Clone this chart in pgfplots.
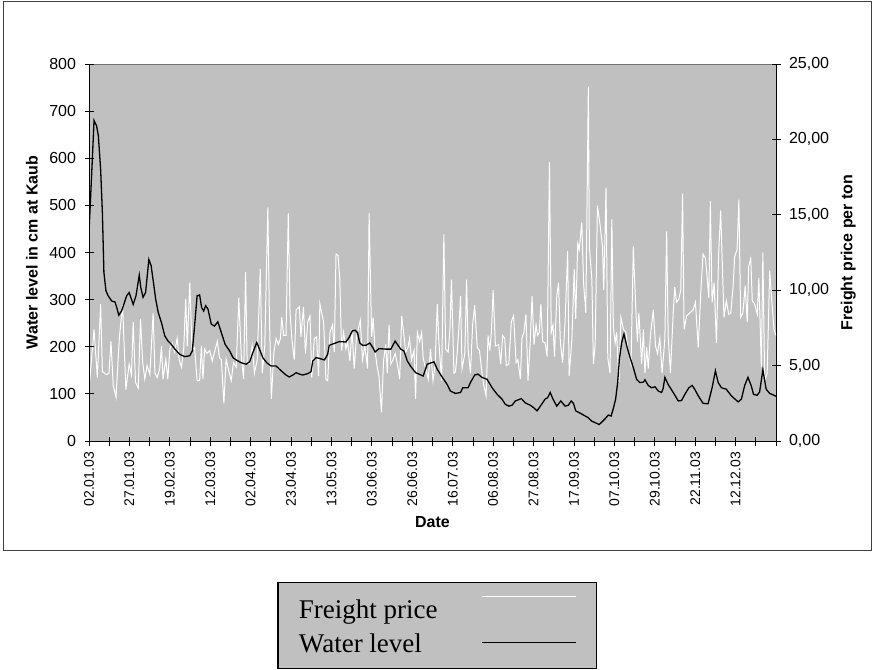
\documentclass[border=0pt]{standalone}
\usepackage{pgfplots}
\pgfplotsset{compat=1.18}
\usepackage{fontspec}
\setmainfont{Liberation Sans}
\newfontfamily\legfont{Liberation Serif}
\definecolor{bggray}{HTML}{C0C0C0}
\def\legy{8pt}
\begin{document}
\begin{tikzpicture}
\useasboundingbox (0,0) rectangle (874pt,-669pt);
\fill[white] (0,0) rectangle (874pt,-669pt);
\draw[line width=1pt, black!75] (3pt,-1.5pt) rectangle (871pt,-550pt);
\pgfplotsset{
  common/.style={
    scale only axis, width=687pt, height=377pt,
    at={(89pt,-441pt)}, anchor=south west,
    xmin=0, xmax=272,
    tick align=center, major tick length=9pt, minor tick length=9pt,
    tick style={black, line width=0.8pt},
    axis line style={black, line width=0.9pt},
    /pgf/number format/assume math mode=true,
    ticklabel style={font=\fontsize{16}{19}\selectfont},
    yticklabel shift=5pt,
    label style={font=\bfseries\fontsize{16}{19}\selectfont},
  }
}
\begin{axis}[common,
  axis background/.style={fill=bggray, draw=black!55, line width=0.8pt},
  axis y line*=right, axis x line*=bottom,
  ymin=0, ymax=25, ytick={0,5,...,25},
  yticklabel style={/pgf/number format/.cd, fixed, fixed zerofill, precision=2, use comma},
  xtick={0,16,...,256},
  minor xtick={8,24,...,264,272},
  xticklabels={02.01.03,27.01.03,19.02.03,12.03.03,02.04.03,23.04.03,13.05.03,03.06.03,26.06.03,16.07.03,06.08.03,27.08.03,17.09.03,07.10.03,29.10.03,22.11.03,12.12.03},
  xticklabel style={rotate=90, anchor=east, font=\fontsize{14}{17}\selectfont},
  xticklabel shift=3pt,
  xlabel={Date}, ylabel={Freight price per ton},
  xlabel style={at={(axis description cs:0.5,-0.215)}, anchor=center},
  ylabel style={at={(axis description cs:1.105,0.5)}, anchor=center},
]
\addplot[white, line width=1pt] coordinates {
(0,3.5)(2,7.4)(3.3,4.2)(4.6,9.1)(5.3,4.6)(7,4.4)(7.9,4.5)(8.7,6.6)(9.6,3.7)(10.7,2.9)(12,6.8)(13.3,9.0)(14.6,3.4)(15.9,5.1)(16.8,4.4)(17.5,7.9)(18.4,3.9)(19.5,3.5)(20.4,8.1)(21.2,5.3)(22.1,4.1)(23,5.0)(24.1,4.4)(25.4,8.5)(26.1,4.5)(27,4.2)(28,4.8)(28.7,6.3)(29.3,4.1)(30.4,5.4)(31.2,4.1)(32,6.1)(33,6.5)(33.9,5.9)(34.9,6.8)(35.7,5.4)(36.6,4.9)(37.5,6.1)(38.3,9.4)(38.9,6.3)(39.9,10.5)(40.8,6.1)(41.8,6.2)(42.8,4.0)(43.8,4.0)(44.5,6.3)(45.1,4.1)(45.8,6.1)(46.7,5.8)(47.8,6.0)(48.8,5.3)(49.7,5.9)(50.8,6.6)(51.7,5.5)(52.4,5.4)(53.4,2.5)(54.3,5.4)(55.4,4.6)(56.3,4.0)(57.2,5.2)(58.3,4.9)(59.3,9.5)(60.3,5.6)(61.2,4.1)(62,11.2)(62.6,5.2)(63.6,5.1)(64.6,6.3)(65.5,4.5)(66.6,5.4)(67.8,11.4)(68.6,4.5)(69.6,6.3)(70.8,15.5)(71.4,8.5)(72.2,2.8)(73.2,5.9)(74.1,6.8)(75,6.4)(75.8,6.8)(76.3,8.2)(77.1,7.0)(78,7.0)(78.9,15.1)(79.6,8.5)(80.4,6.6)(81.3,5.4)(82,8.7)(83.3,8.9)(83.9,6.9)(84.9,8.9)(85.7,5.8)(86.6,7.9)(87.5,8.3)(88.2,4.2)(89.2,6.8)(90.1,6.9)(90.9,4.3)(91.4,9.1)(92.1,8.5)(92.9,7.9)(93.8,4.1)(94.5,4.0)(95.4,7.2)(96.4,7.7)(97.1,5.9)(97.8,12.4)(98.6,12.3)(99.3,10.7)(100,6.0)(100.8,7.2)(101.7,6.1)(102.4,6.6)(103.3,5.3)(104.1,7.4)(105,4.8)(105.9,6.9)(107.4,8.0)(108.3,5.4)(109.2,6.3)(110.3,4.8)(110.9,15.1)
(111.9,6.9)(112.5,8.2)(113.3,5.9)(114.2,4.8)(114.8,4.3)(115.8,1.9)(116.6,5.3)(117.5,6.4)(118.1,4.5)(118.8,7.7)(119.5,5.1)(120.4,5.4)(121.2,5.8)(122.1,5.1)(123,4.1)(123.8,8.3)(124.7,7.0)(125.4,5.9)(126.3,6.2)(126.9,6.8)(127.7,5.4)(128.7,6.0)(129.3,2.8)(130,7.2)(130.9,6.6)(131.7,7.2)(132.3,5.5)(133.3,4.8)(134.3,4.1)(135.2,6.1)(136.2,4.0)(137,5.0)(137.9,9.1)(138.5,6.6)(139.6,4.0)(140.5,13.7)(141.2,6.1)(142.2,5.9)(142.9,7.4)(143.5,10.7)(144.5,4.5)(145.1,4.6)(145.8,5.9)(146.4,7.4)(147.1,9.6)(147.7,4.8)(148.8,5.8)(149.5,10.7)(150.1,6.1)(151,4.5)(151.9,7.7)(152.7,9.0)(153.7,6.2)(154.6,6.0)(155.6,4.5)(156.3,3.7)(157.2,3.0)(158,7.0)(158.7,6.0)(159.3,7.2)(160,10.0)(160.9,6.3)(162.2,6.4)(163,5.1)(163.8,7.0)(164.6,6.8)(165.2,5.0)(166.2,5.1)(167.2,7.9)(168.1,8.3)(169.1,5.2)(169.8,5.4)(170.8,4.1)(171.4,6.8)(172.2,7.2)(173,8.4)(173.8,4.0)(174.7,6.6)(175.4,9.6)(176.2,6.4)(177,7.7)(177.6,7.0)(178.3,7.2)(178.9,9.1)(179.6,6.6)(180.6,6.5)(181.4,5.6)(182.3,18.5)(183,7.2)(183.7,7.7)(184.3,5.6)(185.2,9.6)
(185.9,10.5)(186.6,6.6)(187.5,5.2)(188.5,7.9)(189.5,12.6)(190.1,4.3)(191.2,6.8)(192.1,11.4)(192.7,8.1)(193.5,13.1)(194.1,12.7)(195.1,14.5)(195.8,10.5)(196.7,8.5)(197.7,23.5)(198.1,12.9)(199.1,10.7)(199.7,5.1)(200.4,6.4)(201.3,15.6)(202.3,14.4)(203.3,12.9)(203.8,10.0)(204.7,16.8)(205.4,5.5)(206.3,4.5)(207,14.7)(207.6,7.6)(208.3,6.5)(208.9,7.2)(209.8,3.9)(210.6,8.2)(211.6,7.4)(212.6,7.2)(213.5,5.9)(214.6,5.1)(215.5,12.9)(216.4,9.1)(217.1,6.6)(217.7,8.5)(218.8,5.1)(219.5,7.4)(220.1,4.5)(220.8,6.2)(221.4,4.8)(222.3,7.0)(223.4,8.7)(224.3,6.3)(225.1,5.8)(226,6.8)(226.9,4.5)(228,6.8)(228.7,13.9)(229.3,7.0)(230.2,4.5)(231.3,8.5)(231.9,10.2)(232.6,9.2)(233.5,9.4)(234.3,10.0)(235,16.4)(235.6,7.4)(236.6,8.3)(237.9,8.5)(239.2,8.7)(240.1,9.2)(241.2,6.2)(242.2,9.8)(243.1,12.4)(244.1,12.1)(244.8,10.7)(245.4,9.5)(246,15.9)(246.7,9.2)(247.5,10.5)(248.4,6.5)(249.3,12.5)(250.1,15.3)(250.6,12.5)(251.4,8.2)(252.3,9.3)(253.3,8.4)(254.1,8.5)(255,10.2)(255.6,12.2)(256.6,12.7)(257.3,16.0)(258,8.2)(258.9,8.5)(259.8,10.3)(260.6,7.9)(261.2,11.6)(262,12.1)(262.6,9.3)(263.5,9.1)(264.6,8.4)(265.2,10.8)(266.2,4.9)(266.8,12.5)(267.5,4.0)(268.5,4.5)(269.5,11.3)(270.1,9.8)(271.2,7.4)(272,7.0)
};
\end{axis}
\begin{axis}[common,
  axis y line*=left, axis x line=none,
  ymin=0, ymax=800, ytick={0,100,...,800},
  ylabel={Water level in cm at Kaub},
  ylabel style={at={(axis description cs:-0.083,0.5)}, anchor=center},
  legend plot pos=right, legend cell align=left,
  legend image code/.code={\draw[#1] (0pt,\legy) -- (94pt,\legy);},
  legend style={at={(axis description cs:0.5066,-0.374)}, anchor=north,
    fill=bggray, draw=black, line width=1.2pt,
    font=\legfont\fontsize{27}{32}\selectfont,
    inner xsep=19pt, inner ysep=13pt, column sep=42pt, row sep=9pt,
    nodes={inner sep=2pt}},
]
\addlegendimage{white, line width=1.5pt, /utils/exec={\def\legy{14pt}}}
\addlegendentry{Freight price}
\addplot[black, line width=1.3pt, legend image post style={/utils/exec={\def\legy{1pt}}}] coordinates {
(0,443)(1,560)(2,680)(3,669)(3.7,648)(4.6,577)(5.3,485)(5.9,358)(6.7,319)(7.6,308)(9,297)(10.3,295)(11,283)(11.8,267)(12.9,276)(13.6,287)(14.9,308)(15.9,315)(17.5,290)(18.6,308)(19.9,352)(20.5,326)(21.4,305)(22.4,315)(23.7,385)(24.6,372)(25.7,329)(26.4,301)(27.4,273)(28.7,251)(30,223)(31.3,212)(32.6,205)(34,195)(35.9,184)(37.9,179)(39.9,181)(40.9,191)(41.8,244)(42.8,308)(43.8,310)(44.6,283)(45.4,276)(46.2,287)(47.1,280)(48.4,248)(49.7,244)(51,253)(52.4,230)(53.9,205)(55.7,191)(57,177)(58.3,172)(60.3,166)(62.2,163)(63.6,168)(64.9,188)(66.4,209)(67.5,195)(68.8,177)(70.4,166)(72.1,159)(74.1,159)(76.1,149)(78,140)(79.3,136)(80.7,140)(82,145)(83.3,142)(84.6,140)(86.6,143)(87.9,147)(88.6,170)(89.9,177)(91.4,175)(93.2,172)(94.5,184)(95.1,203)(97.1,207)(99.1,211)(101.7,210)(103,220)(104.3,234)(105.4,235)(106.3,230)(107.2,208)(108.3,203)(109.6,203)(111.2,208)(112.4,198)(113.3,189)(114.8,196)(117.5,195)(119.5,195)(121.2,212)(122.1,205)(123.4,195)(124.7,191)(126,170)(127.3,159)(129.3,145)(130.6,142)(132.3,138)(133.9,163)(136.6,168)(137.9,152)(139.9,135)(141.8,120)(143.1,106)(145.1,101)(147.1,103)(148,113)(150.1,113)(151,124)(152.7,140)(154,142)(155.6,135)(157.6,131)(159.6,113)(161.6,99)(163.5,89)(164.8,78)(166.2,74)(167.5,76)(168.8,85)(171.2,90)(172.7,81)(174.7,76)(176,71)(177.4,64)(178.7,74)(180.6,89)(181.6,92)(182.6,103)(183.7,89)(185.2,74)(186.8,85)(188.5,74)(189.8,76)(190.9,85)(191.8,80)(192.7,64)(194.5,59)(195.8,55)(197.5,50)(199.1,42)(200.4,39)(202,35)(203,40)(204.3,47)(205.6,55)(206.7,53)(207.6,69)(208.5,89)(209.3,124)(210,174)(210.9,209)(211.8,227)(212.9,202)(214.2,177)(215.5,156)(216.8,131)(218.1,124)(219.5,125)(220.1,130)(221.4,118)(222.7,113)(224.1,115)(225.4,106)(226.7,103)(227.3,111)(228,135)(229.3,120)(231.3,103)(233.3,85)(234.6,86)(235.9,99)(237.5,113)(238.8,118)(239.8,110)(241.2,96)(243.1,80)(245.1,79)(246.7,113)(248,149)(249.1,124)(250.4,113)(252.3,110)(254.3,96)(257,83)(258.3,89)(259.6,118)(260.9,135)(262.2,117)(263.1,99)(264.5,97)(265.5,104)(266.8,151)(268.1,110)(269.5,101)(271.2,97)(272,95)
};
\addlegendentry{Water level}
\end{axis}
\end{tikzpicture}
\end{document}
